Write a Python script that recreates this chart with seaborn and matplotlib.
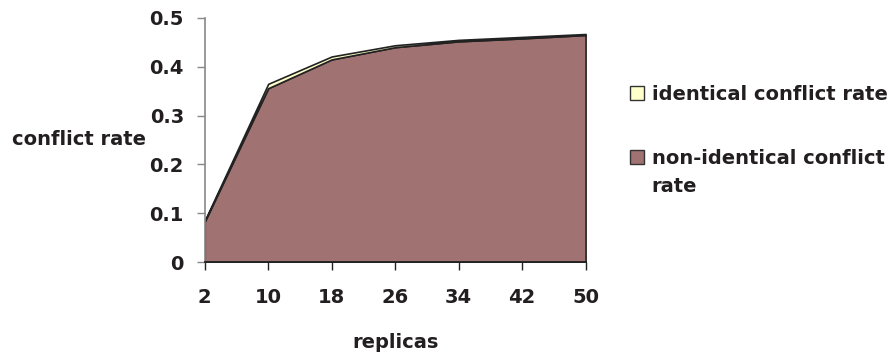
import matplotlib
matplotlib.use("Agg")
import matplotlib.pyplot as plt
import seaborn as sns
from matplotlib.patches import Patch

replicas = [2, 10, 18, 26, 34, 42, 50]
non_identical = [0.083, 0.356, 0.415, 0.440, 0.452, 0.458, 0.465]
identical = [0.002, 0.009, 0.006, 0.004, 0.003, 0.003, 0.002]
series_names = ["identical conflict rate", "non-identical conflict rate"]
yticks = [0, 0.1, 0.2, 0.3, 0.4, 0.5]
ytick_labels = ["0", "0.1", "0.2", "0.3", "0.4", "0.5"]

sns.set_style("white")
plt.rcParams['font.family'] = ['DejaVu Sans']
plt.rcParams['font.weight'] = 'bold'

FS = 14
TXT = "#231f20"
W, H = 894, 358

fig = plt.figure(figsize=(8.94, 3.58), dpi=100)
ax = fig.add_axes([0.229, 0.268, 0.426, 0.682])

c_non = "#A07272"
c_id = "#FFFFCC"
ax.stackplot(replicas, non_identical, identical, colors=[c_non, c_id],
             edgecolor="#222222", linewidth=1.2)

ax.set_xlim(2, 50)
ax.set_ylim(0, 0.5)
ax.set_xticks(replicas)
ax.set_xticklabels([str(r) for r in replicas])
ax.set_yticks(yticks)
ax.set_yticklabels(ytick_labels)
ax.tick_params(axis='both', labelsize=FS, length=6, direction='out', width=1)
ax.tick_params(axis='x', bottom=True, pad=13, colors="#222222")
ax.tick_params(axis='y', left=True, pad=9, colors="#888888")
for lab in ax.get_xticklabels() + ax.get_yticklabels():
    lab.set_fontweight('bold')
    lab.set_color(TXT)

for s in ['top', 'right']:
    ax.spines[s].set_visible(False)
ax.spines['left'].set_color('#888888')
ax.spines['left'].set_linewidth(1.2)
ax.spines['bottom'].set_color('#222222')
ax.spines['bottom'].set_linewidth(1.3)

ax.set_xlabel("replicas", fontsize=FS, fontweight='bold', color=TXT, va='center')
ax.xaxis.set_label_coords(0.5, -0.33)
ax.set_ylabel("conflict rate", fontsize=FS, fontweight='bold', rotation=0,
              ha='right', va='center', color=TXT)
ax.yaxis.set_label_coords(-0.155, 0.5)

# legend: second label wraps after "conflict", handle aligned to first line
first_lines = []
rest_lines = []
for name in series_names:
    if name.startswith("non-identical"):
        first_lines.append("non-identical conflict")
        rest_lines.append(name[len("non-identical conflict "):])
    else:
        first_lines.append(name)
        rest_lines.append("")

handles = [Patch(facecolor=c_id, edgecolor="#333333", linewidth=1),
           Patch(facecolor=c_non, edgecolor="#333333", linewidth=1)]
leg = fig.legend(handles, first_lines, loc='center left',
                 bbox_to_anchor=(630 / W, 1 - 126.5 / H), frameon=False,
                 prop={'size': FS, 'weight': 'bold'},
                 handlelength=0.72, handleheight=0.72, handletextpad=0.4,
                 labelspacing=2.3, borderaxespad=0, borderpad=0)
for t in leg.get_texts():
    t.set_color(TXT)

fig.canvas.draw()
texts = leg.get_texts()
for t, extra in zip(texts, rest_lines):
    if extra:
        bb = t.get_window_extent()
        fig.text(bb.x0 / W, (bb.y0 + bb.y1) / 2 / H - 28 / H, extra,
                 fontsize=FS, fontweight='bold', color=TXT,
                 ha='left', va='center')

fig.savefig("out.png", dpi=100)
